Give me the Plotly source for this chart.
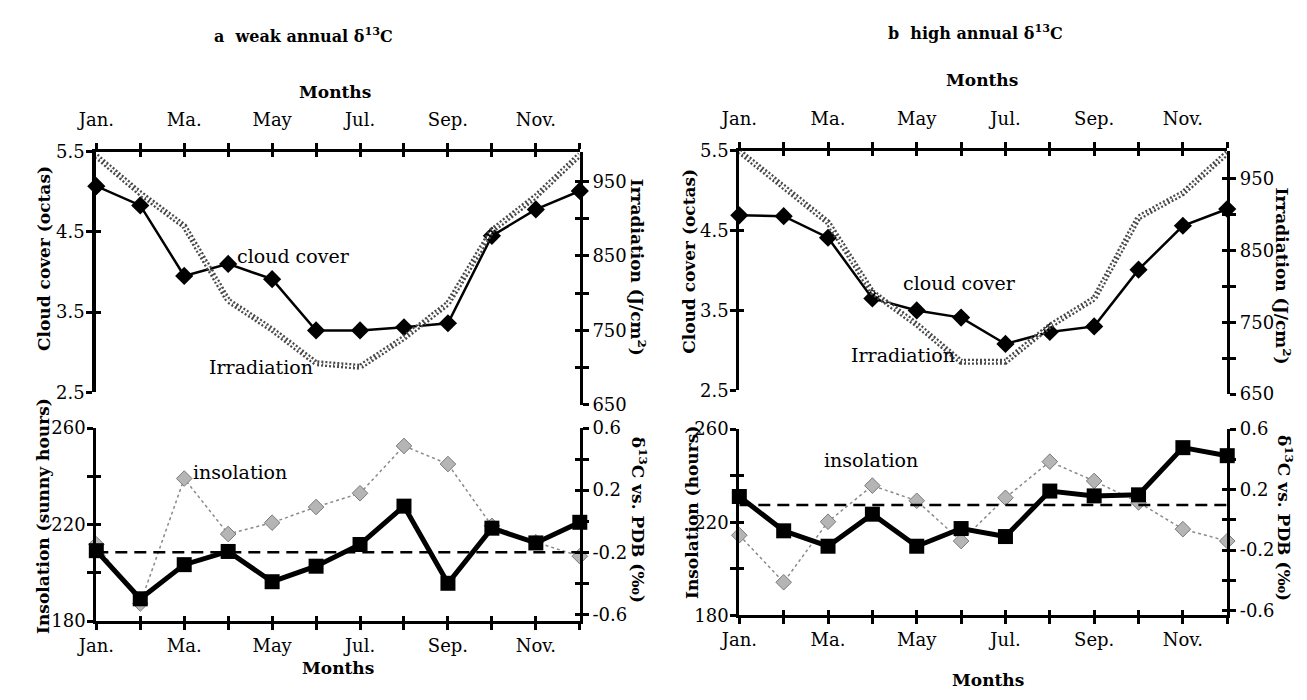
import plotly.graph_objects as go

W, H = 1307, 700

# ---------------- data ----------------
month_index = [1, 2, 3, 4, 5, 6, 7, 8, 9, 10, 11, 12]
month_ticktext = ["Jan.", "", "Ma.", "", "May", "", "Jul.", "", "Sep.", "", "Nov.", ""]

# panel a (weak annual d13C)
cloud_a = [5.07, 4.83, 3.95, 4.10, 3.91, 3.27, 3.27, 3.31, 3.36, 4.45, 4.78, 5.01]
irrad_a = [984, 934, 890, 790, 751, 706, 701, 740, 786, 884, 930, 986]
insol_a = [211.8, 187.3, 239.1, 216.1, 220.8, 227.3, 233.0, 252.6, 245.1, 219.5, 212.7, 206.9]
d13c_a = [-0.19, -0.50, -0.28, -0.195, -0.39, -0.29, -0.15, 0.097, -0.40, -0.045, -0.14, -0.007]
d13c_ref_a = -0.2

# panel b (high annual d13C)
cloud_b = [4.69, 4.68, 4.41, 3.65, 3.50, 3.41, 3.08, 3.23, 3.30, 4.01, 4.56, 4.77]
irrad_b = [988, 939, 889, 792, 747, 695, 695, 745, 783, 896, 930, 986]
insol_b = [214.4, 194.2, 220.2, 235.7, 229.2, 211.9, 230.5, 246.0, 237.7, 228.5, 217.0, 211.9]
d13c_b = [0.154, -0.073, -0.175, 0.037, -0.175, -0.058, -0.111, 0.19, 0.158, 0.165, 0.477, 0.424]
d13c_ref_b = 0.097

cloud_ticks = [2.5, 3.5, 4.5, 5.5]
irrad_ticks = [650, 700, 750, 800, 850, 900, 950]
irrad_ticktext = ["650", "", "750", "", "850", "", "950"]
insol_ticks = [180, 200, 220, 240, 260]
insol_ticktext = ["180", "", "220", "", "260"]
d13c_ticks = [-0.6, -0.4, -0.2, 0.0, 0.2, 0.4, 0.6]
d13c_ticktext = ["-0.6", "", "-0.2", "", "0.2", "", "0.6"]

FONT = "DejaVu Serif"
TICKFONT = dict(family=FONT, size=18, color="black")


def xd(p0, p1):
    return [p0 / W, p1 / W]


def yd(top, bottom):
    return [1 - bottom / H, 1 - top / H]


fig = go.Figure()

AX = dict(showgrid=False, zeroline=False, showline=True, linecolor="black",
          linewidth=3, ticks="outside", tickcolor="black", tickwidth=2.5,
          ticklen=6, tickfont=TICKFONT)

twin_counter = {"x": 4, "y": 8}
layout_all = {}


def nm(prefix, i):
    return prefix if i == 1 else f"{prefix}{i}"


def ref(letter, i):
    return letter if i == 1 else f"{letter}{i}"


def add_twin(letter, orig_id, spec):
    """Axis twin carrying the inner half of the crossing ticks."""
    twin_counter[letter] += 1
    tid = twin_counter[letter]
    base = spec.get("overlaying", ref(letter, orig_id))
    t = dict(showgrid=False, zeroline=False, showline=False, showticklabels=False,
             ticks="inside", tickcolor="black", tickwidth=2.5, ticklen=5,
             overlaying=base, anchor=spec["anchor"], side=spec["side"],
             range=spec["range"], tickvals=spec["tickvals"])
    layout_all[nm(letter + "axis", tid)] = t
    if letter == "x":
        fig.add_trace(go.Scatter(x=[None], y=[None], xaxis=ref("x", tid),
                                 yaxis=spec["anchor"], hoverinfo="skip", mode="lines"))
    else:
        fig.add_trace(go.Scatter(x=[None], y=[None], xaxis=spec["anchor"],
                                 yaxis=ref("y", tid), hoverinfo="skip", mode="lines"))


def panel(n, xpix, top_y, top_right_bottom, bot_y, irr_range, d_range,
          cloud, irrad, insol, d13c, dref):
    xa_top, xa_bot = 2 * n - 1, 2 * n
    ya = 4 * (n - 1) + 1
    yid = [ya, ya + 1, ya + 2, ya + 3]

    xt, xb = nm("xaxis", xa_top), nm("xaxis", xa_bot)
    xtr, xbr = ref("x", xa_top), ref("x", xa_bot)
    y1, y2, y3, y4 = [nm("yaxis", i) for i in yid]
    y1r, y2r, y3r, y4r = [ref("y", i) for i in yid]

    L = {}
    L[xt] = dict(AX, domain=xd(*xpix), range=[1, 12], anchor=y1r, side="top",
                 tickvals=month_index, ticktext=month_ticktext, ticklabelstandoff=9)
    L[xb] = dict(AX, domain=xd(*xpix), range=[1, 12], anchor=y3r, side="bottom",
                 tickvals=month_index, ticktext=month_ticktext)
    L[y1] = dict(AX, domain=yd(*top_y), range=[2.5, 5.5], anchor=xtr, side="left",
                 tickvals=cloud_ticks, ticktext=[f"{v}" for v in cloud_ticks],
                 linewidth=4 if n == 1 else 3, ticklabelstandoff=-2)
    L[y2] = dict(AX, domain=yd(top_y[0], top_right_bottom), range=irr_range,
                 anchor=xtr, side="right",
                 tickvals=irrad_ticks, ticktext=irrad_ticktext)
    L[y3] = dict(AX, domain=yd(*bot_y), range=[180, 260], anchor=xbr, side="left",
                 tickvals=insol_ticks, ticktext=insol_ticktext, ticklabelstandoff=-2)
    L[y4] = dict(AX, range=d_range, anchor=xbr, side="right", overlaying=y3r,
                 tickvals=d13c_ticks, ticktext=d13c_ticktext)
    layout_all.update(L)

    add_twin("x", xa_top, L[xt])
    add_twin("x", xa_bot, L[xb])
    for i, key in zip(yid, [y1, y2, y3, y4]):
        add_twin("y", i, L[key])

    # irradiation (hatched grey band)
    fig.add_trace(go.Scatter(x=month_index, y=irrad, xaxis=xtr, yaxis=y2r, mode="lines",
                             line=dict(color="#4a4a4a", width=6, dash="2px,2px"),
                             cliponaxis=False, hoverinfo="skip"))
    fig.add_trace(go.Scatter(x=month_index, y=irrad, xaxis=xtr, yaxis=y2r, mode="lines",
                             line=dict(color="white", width=1.5, dash="3px,2px"),
                             cliponaxis=False, hoverinfo="skip"))
    # cloud cover
    fig.add_trace(go.Scatter(x=month_index, y=cloud, xaxis=xtr, yaxis=y1r,
                             mode="lines+markers",
                             line=dict(color="black", width=2.5),
                             marker=dict(symbol="diamond", size=14, color="black"),
                             cliponaxis=False))
    # insolation
    fig.add_trace(go.Scatter(x=month_index, y=insol, xaxis=xbr, yaxis=y3r,
                             mode="lines+markers",
                             line=dict(color="#8a8a8a", width=1.5, dash="dot"),
                             marker=dict(symbol="diamond", size=12, color="#b5b5b5",
                                         line=dict(color="#7a7a7a", width=1)),
                             cliponaxis=False))
    # d13C
    fig.add_trace(go.Scatter(x=month_index, y=d13c, xaxis=xbr, yaxis=y4r,
                             mode="lines+markers",
                             line=dict(color="black", width=5),
                             marker=dict(symbol="square", size=15, color="black"),
                             cliponaxis=False))
    fig.add_shape(type="line", xref=xbr, yref=y4r, x0=month_index[0], x1=month_index[-1],
                  y0=dref, y1=dref, line=dict(color="black", width=2.5, dash="12px,7px"))


panel(1, (77.5, 568.5), (145, 393), 406, (430, 629), [650, 990], [-0.644, 0.6],
      cloud_a, irrad_a, insol_a, d13c_a, d13c_ref_a)
panel(2, (730.5, 1226), (144, 391), 395, (431, 623), [650, 989], [-0.632, 0.6],
      cloud_b, irrad_b, insol_b, d13c_b, d13c_ref_b)

fig.update_layout(**layout_all)


def ann(text, x, y, size=20, bold=False, angle=0):
    t = f"<b>{text}</b>" if bold else text
    fig.add_annotation(text=t, x=x / W, y=1 - y / H, xref="paper", yref="paper",
                       showarrow=False, textangle=angle, xanchor="center", yanchor="middle",
                       font=dict(family=FONT, size=size, color="black"))


# titles
ann("a  weak annual δ<sup>13</sup>C", 288, 25, size=16, bold=True)
ann("b  high annual δ<sup>13</sup>C", 970, 22, size=16, bold=True)
ann("Months", 320, 83, size=17, bold=True)
ann("Months", 977, 71, size=17, bold=True)
ann("Months", 323, 677, size=17, bold=True)
ann("Months", 983, 690, size=17, bold=True)

# axis titles
ann("Cloud cover (octas)", 25, 255, size=17, bold=True, angle=-90)
ann("Irradiation (J/cm<sup>2</sup>)", 628, 264, size=17, bold=True, angle=90)
ann("Cloud cover (octas)", 680, 258, size=17, bold=True, angle=-90)
ann("Irradiation (J/cm<sup>2</sup>)", 1283, 273, size=17, bold=True, angle=90)
ann("Insolation (sunny hours)", 24, 521, size=17, bold=True, angle=-90)
ann("δ<sup>13</sup>C vs. PDB (‰)", 628, 525, size=17, bold=True, angle=90)
ann("Insolation (hours)", 683, 517, size=17, bold=True, angle=-90)
ann("δ<sup>13</sup>C vs. PDB (‰)", 1284, 523, size=17, bold=True, angle=90)

# in-plot labels
ann("cloud cover", 278, 253, size=19)
ann("Irradiation", 245, 367, size=19)
ann("cloud cover", 954, 280, size=19)
ann("Irradiation", 897, 355, size=19)
ann("insolation", 223, 475, size=19)
ann("insolation", 864, 463, size=19)

fig.update_layout(width=W, height=H, margin=dict(l=0, r=0, t=0, b=0),
                  paper_bgcolor="white", plot_bgcolor="rgba(0,0,0,0)",
                  showlegend=False)

fig.write_html("out.html", config={"displayModeBar": False},
               post_script="document.body.style.margin='0';"
                           "document.body.style.padding='0';"
                           "document.body.style.overflow='hidden';")
